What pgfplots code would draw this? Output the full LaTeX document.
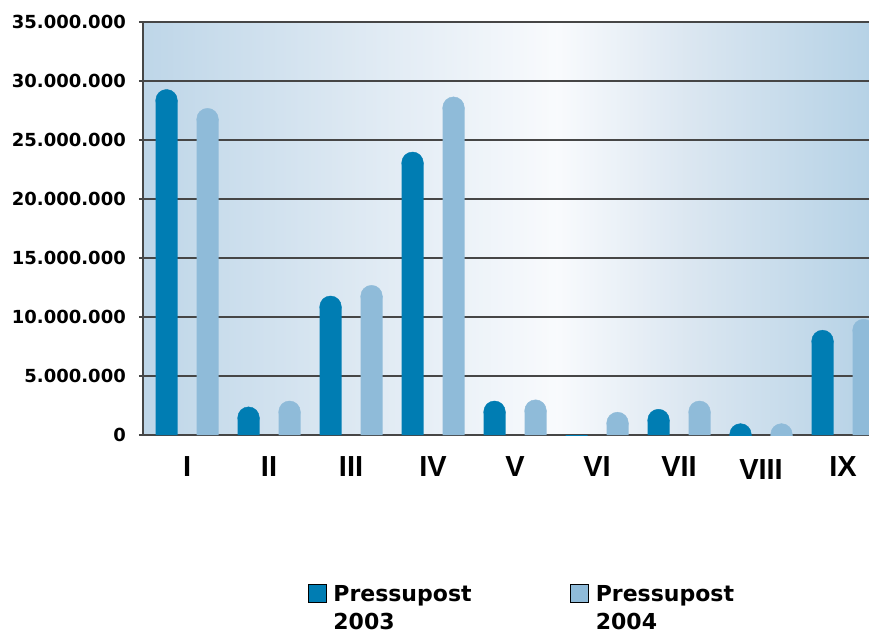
\documentclass[border=0pt]{standalone}
\usepackage{fontspec}
\setmainfont{DejaVu Sans}
\newfontfamily\libsans{Liberation Sans}
\usepackage{pgfplots}
\pgfplotsset{compat=1.18}
\usepackage{pgfplotstable}
\definecolor{darkbar}{RGB}{0,125,179}
\definecolor{lightbar}{RGB}{143,187,217}
\definecolor{gridc}{RGB}{70,70,70}
\pgfdeclarehorizontalshading{bgshade}{100bp}{%
  rgb(0bp)=(0.745,0.839,0.910);
  rgb(25bp)=(0.745,0.839,0.910);
  rgb(40bp)=(0.870,0.914,0.952);
  rgb(53.5bp)=(0.975,0.982,0.992);
  rgb(62.5bp)=(0.860,0.905,0.945);
  rgb(75bp)=(0.714,0.824,0.902);
  rgb(100bp)=(0.714,0.824,0.902)}
\pgfplotstableread{
x a b
0 29.3 27.7
1 2.4 2.9
2 11.8 12.7
3 24.0 28.67
4 2.9 3.0
5 0 1.95
6 2.2 2.9
7 0.8 0.8
8 8.9 9.83
}\data
\begin{document}
\begin{tikzpicture}
\useasboundingbox (-143pt,-199pt) rectangle (726pt,435pt);
\begin{axis}[
  scale only axis,
  width=726pt, height=413pt,
  xmin=-0.537, xmax=8.317,
  ymin=0, ymax=35,
  axis lines*=left,
  axis line style={gridc, line width=1.3pt, -},
  axis background/.style={shading=bgshade},
  ytick={0,5,...,35},
  yticklabels={0,5.000.000,10.000.000,15.000.000,20.000.000,25.000.000,30.000.000,35.000.000},
  ymajorgrids,
  grid style={gridc, line width=1.2pt},
  ytick style={gridc, line width=1.2pt},
  tick align=outside,
  major tick length=4pt,
  yticklabel style={font=\fontsize{18}{20}\selectfont\bfseries, anchor=east, inner sep=0pt, xshift=-13pt},
  xtick={0,...,8},
  xticklabels={I,II,III,IV,V,VI,VII,\raisebox{-3.5pt}{VIII},IX},
  xtick style={draw=none},
  xticklabel style={font=\libsans\fontsize{29}{30}\selectfont\bfseries, anchor=base, inner sep=0pt, yshift=-37pt},
  clip mode=individual,
  clip marker paths=true,
  legend columns=2,
  legend style={draw=none, fill=none, inner sep=0pt, outer sep=0pt,
    at={(0.2273,-0.3610)}, anchor=north west,
    font=\fontsize{22}{28}\selectfont\bfseries, nodes={inner sep=0pt},
    /tikz/every odd column/.append style={column sep=7pt},
    /tikz/every even column/.append style={column sep=0pt}},
  legend image code/.code={\fill[#1] (0pt,0pt) rectangle (18pt,18pt);},
]
\addplot[ybar, bar width=22pt, bar shift=0pt, draw=none, fill=darkbar, forget plot]
  table[x expr=\thisrow{x}-0.25, y expr=\thisrow{a}-0.932] {\data};
\addplot[only marks, mark=*, darkbar, mark size=10.8pt, forget plot]
  table[x expr=\thisrow{x}-0.25, y expr={\thisrow{a}>0 ? max(\thisrow{a}-0.932,0.05) : -1}] {\data};
\addplot[ybar, bar width=22pt, bar shift=0pt, draw=none, fill=lightbar, forget plot]
  table[x expr=\thisrow{x}+0.25, y expr=\thisrow{b}-0.932] {\data};
\addplot[only marks, mark=*, lightbar, mark size=10.8pt, forget plot]
  table[x expr=\thisrow{x}+0.25, y expr={\thisrow{b}>0 ? max(\thisrow{b}-0.932,0.05) : -1}] {\data};
\addlegendimage{fill=darkbar}
\addlegendentry{\makebox[237pt][l]{\smash{\begin{tabular}[t]{@{}l@{}}Pressupost\\2003\end{tabular}}}}
\addlegendimage{fill=lightbar}
\addlegendentry{\smash{\begin{tabular}[t]{@{}l@{}}Pressupost\\2004\end{tabular}}}
\end{axis}
\end{tikzpicture}
\end{document}
